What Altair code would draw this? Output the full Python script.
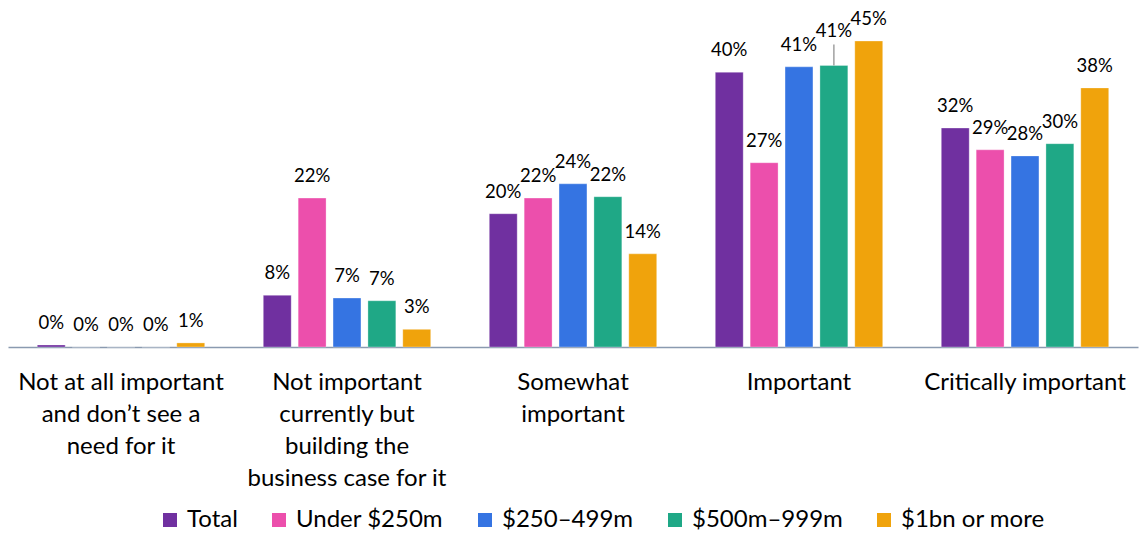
import altair as alt
import pandas as pd

categories = [
    "Not at all important|and don’t see a|need for it",
    "Not important|currently but|building the|business case for it",
    "Somewhat|important",
    "Important",
    "Critically important",
]
series = ["Total", "Under $250m", "$250–499m", "$500m–999m", "$1bn or more"]
colors = ["#7030A0", "#EC4FAC", "#3574E2", "#1FA886", "#F0A30C"]

total = [0.3, 7.6, 19.6, 40.4, 32.2]
under250 = [0.0, 21.9, 21.9, 27.1, 29.0]
m250_499 = [0.0, 7.2, 24.0, 41.2, 28.1]
m500_999 = [0.0, 6.8, 22.1, 41.4, 29.9]
bn1 = [0.6, 2.6, 13.7, 45.0, 38.1]

rows = []
for s, vals in zip(series, [total, under250, m250_499, m500_999, bn1]):
    for c, v in zip(categories, vals):
        rows.append({"cat": c, "series": s, "value": v})
df = pd.DataFrame(rows)

font = "Lato"

x = alt.X("cat:N", sort=categories, title=None,
          scale=alt.Scale(paddingInner=0, paddingOuter=0),
          axis=alt.Axis(labelExpr="split(datum.label, '|')", labelAngle=0,
                        labelFontSize=24, labelLineHeight=32, labelPadding=23,
                        labelColor="#000000", labelFont=font, ticks=False,
                        domainColor="#8A9AB0", domainWidth=1.5, labelLimit=300))
xo = alt.XOffset("series:N", sort=series,
                 scale=alt.Scale(paddingInner=0.2, paddingOuter=0.84))

base = alt.Chart(df).encode(x=x, xOffset=xo)

bars = base.mark_bar(stroke="white", strokeWidth=0.5, strokeOpacity=0.6).encode(
    y=alt.Y("value:Q", scale=alt.Scale(domain=[0, 50]), axis=None),
    color=alt.Color("series:N", sort=series,
                    scale=alt.Scale(domain=series, range=colors),
                    legend=alt.Legend(orient="none", direction="horizontal",
                                      legendX=150, legendY=501, title=None,
                                      symbolType="square", symbolSize=196,
                                      symbolStrokeWidth=0,
                                      labelFontSize=24, labelFont=font,
                                      labelColor="#000000", columnPadding=29,
                                      labelOffset=5)),
)

is_moved = "datum.series == '$500m–999m' && datum.cat == 'Important'"

labels = base.transform_calculate(
    lab=f"({is_moved}) ? datum.value + 1.9 : datum.value",
    txt="format(datum.value, '.0f') + '%'",
).mark_text(baseline="bottom", dy=-12, fontSize=18.5, font=font, color="#000000").encode(
    y=alt.Y("lab:Q", scale=alt.Scale(domain=[0, 50])),
    text="txt:N",
)

leader = base.transform_filter(is_moved).transform_calculate(
    y1="datum.value", y2="datum.value + 3.1"
).mark_rule(color="#A0A0A0", strokeWidth=1.5).encode(
    y=alt.Y("y1:Q", scale=alt.Scale(domain=[0, 50])),
    y2="y2:Q",
)

chart = alt.layer(bars, labels, leader).properties(
    width=1130, height=340,
    autosize=alt.AutoSizeParams(type="none"),
    padding={"left": 8, "top": 7, "right": 2, "bottom": 187},
).configure_view(stroke=None)

chart.save("out.html", embed_options={"renderer": "svg", "actions": False})
